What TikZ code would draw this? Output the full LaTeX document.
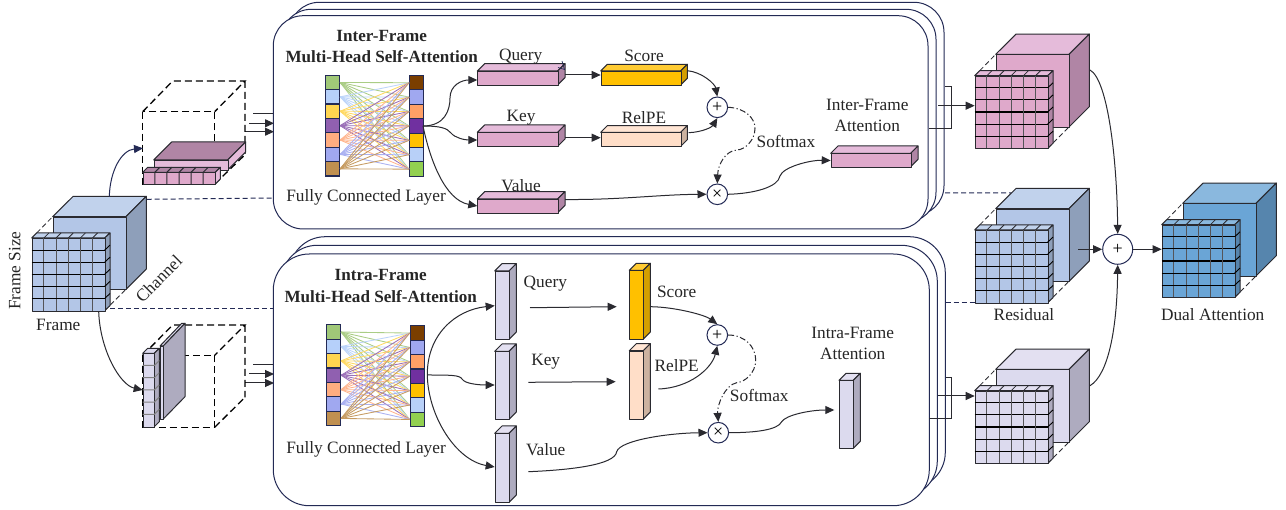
\documentclass[tikz,border=0pt]{standalone}
\usepackage{fontspec}
\setmainfont{Liberation Serif}
\usetikzlibrary{arrows.meta,calc}
\definecolor{navyl}{HTML}{232A55}
\definecolor{edge}{HTML}{2A2A30}
\definecolor{pkF}{HTML}{DFA9CB}\definecolor{pkT}{HTML}{E5BBDA}\definecolor{pkS}{HTML}{B085A5}
\definecolor{blF}{HTML}{B3C6E7}\definecolor{blT}{HTML}{C1D2EC}\definecolor{blS}{HTML}{8E9FBA}
\definecolor{lvF}{HTML}{DCDAEE}\definecolor{lvT}{HTML}{E3E0F1}\definecolor{lvS}{HTML}{AEABBF}
\definecolor{duF}{HTML}{6AA5D6}\definecolor{duT}{HTML}{8AB8DE}\definecolor{duS}{HTML}{5685AD}
\definecolor{scF}{HTML}{FFC000}\definecolor{scT}{HTML}{FFCB33}\definecolor{scS}{HTML}{D49F00}
\definecolor{reF}{HTML}{FFDEC8}\definecolor{reT}{HTML}{FFE5D4}\definecolor{reS}{HTML}{CCB2A0}
\definecolor{c1}{HTML}{A0C878}\definecolor{c2}{HTML}{B6D0FA}\definecolor{c3}{HTML}{FFD550}
\definecolor{c4}{HTML}{9060B0}\definecolor{c5}{HTML}{FFAD80}\definecolor{c6}{HTML}{A0A8F0}\definecolor{c7}{HTML}{C09050}
\definecolor{d1}{HTML}{7A3E00}\definecolor{d2}{HTML}{A0A8F0}\definecolor{d3}{HTML}{FFA066}
\definecolor{d4}{HTML}{7030A0}\definecolor{d5}{HTML}{FFC000}\definecolor{d6}{HTML}{B8D0F8}\definecolor{d7}{HTML}{92D050}
\tikzset{
  face/.style={draw=edge,line width=1pt,line join=round},
  panel/.style={draw=navyl,fill=white,line width=1pt},
  cnode/.style={draw=navyl,fill=white,circle,line width=1pt,minimum size=20.6pt,inner sep=0pt,font=\fontsize{18}{18}\selectfont},
  bigc/.style={cnode,minimum size=30pt},
  arr/.style={draw=edge,line width=1pt,-{Triangle[length=9pt,width=8pt]}},
  plain/.style={draw=edge,line width=1pt},
  softm/.style={arr,dash pattern=on 6pt off 2.5pt on 1.2pt off 2.5pt},
  dbox/.style={draw=black,line width=1.3pt,dash pattern=on 7pt off 4pt},
  thind/.style={draw=edge,line width=.8pt,dash pattern=on 5pt off 3pt},
  navyd/.style={draw=navyl,line width=1pt,dash pattern=on 5pt off 3pt},
  lab/.style={font=\fontsize{17.3}{20}\selectfont,text=black!85,inner sep=0pt,yshift=-.8pt},
  blab/.style={lab,font=\fontsize{17.1}{20}\selectfont\bfseries},
  cell/.style={draw=navyl,line width=1.1pt,minimum width=14pt,minimum height=14.4pt,inner sep=0pt,anchor=north west},
}
% name, x, y, w, h, depth, front, top, side
\newcommand{\cuboid}[9]{%
  \begin{scope}[shift={(#2,#3)}]
    \filldraw[face,fill=#8] (0,0)--(#6,-#6)--(#4+#6,-#6)--(#4,0)--cycle;
    \filldraw[face,fill=#9] (#4,0)--(#4+#6,-#6)--(#4+#6,#5-#6)--(#4,#5)--cycle;
    \node[face,fill=#7,anchor=north west,inner sep=0pt,minimum width=#4pt,minimum height=#5pt] (#1) at (0,0) {};
  \end{scope}}
% name, x, y, front, top, side
\newcommand{\gridcube}[6]{%
  \begin{scope}[shift={(#2,#3)}]
    \draw[thind] (5,-5)--(21,-21.4) (78.3,-5)--(94.3,-21.4) (73,72.6)--(94.3,51.3);
    \filldraw[face,fill=#5] (21,-21.4)--(41.4,-41.6)--(114.6,-41.6)--(94.3,-21.4)--cycle;
    \filldraw[face,fill=#6] (94.3,-21.4)--(114.6,-41.6)--(114.6,31)--(94.3,51.3)--cycle;
    \node[face,fill=#4,anchor=north west,inner sep=0pt,minimum width=73.3pt,minimum height=72.7pt] (#1back) at (21,-21.4) {};
    \filldraw[face,fill=#5] (0,0)--(5,-5)--(78.3,-5)--(73,0)--cycle;
    \filldraw[face,fill=#6] (73,0)--(78.3,-5)--(78.3,67.6)--(73,72.6)--cycle;
    \node[face,fill=#4,anchor=north west,inner sep=0pt,minimum width=73pt,minimum height=72.6pt] (#1) at (0,0) {};
    \foreach \k in {1,...,5}{
      \draw[draw=edge!80,line width=1pt] (\k*12.17,0)--(\k*12.17,72.6);
      \draw[draw=black,line width=1.1pt] (0,\k*12.1)--(73,\k*12.1);
      \draw[draw=black,line width=.9pt] (73,\k*12.1)--(78.3,\k*12.1-5);
      \draw[draw=edge,line width=.8pt] (\k*12.17,0)--(\k*12.17+5,-5);
    }
  \end{scope}}
% name, xL, yL, xR, yR
\newcommand{\fcnet}[5]{%
  \foreach \i/\c in {1/c1,2/c2,3/c3,4/c4,5/c5,6/c6,7/c7}{
    \node[cell,fill=\c] (#1L\i) at (#2,{#3+(\i-1)*14.4}) {};
  }
  \foreach \i/\c in {1/d1,2/d2,3/d3,4/d4,5/d5,6/d6,7/d7}{
    \node[cell,fill=\c] (#1R\i) at (#4,{#5+(\i-1)*14.4}) {};
  }
  \foreach \i/\c in {1/c1,2/c2,3/c3,4/c4,5/c5,6/c6,7/c7}{
    \foreach \j in {1,...,7}{
      \draw[draw=\c!90!white,line width=.85pt] (#1L\i.east)--(#1R\j.west);
    }
  }}
\begin{document}
\begin{tikzpicture}[x=1pt,y=-1pt]
\path[fill=white,use as bounding box] (0,0) rectangle (1286,510);
% ---- dashed links
\coordinate (dTa) at (945,193);\coordinate (dTb) at (1090,192.5);
\draw[navyd] (dTa)--(dTb);
\coordinate (dBa) at (945.5,303);\coordinate (dBb) at (975,303);
\draw[navyd] (dBa)--(dBb);
\coordinate (dLa) at (146.7,199.3);\coordinate (dLb) at (273,198);
\draw[navyd] (dLa)--(dLb);
\coordinate (dMa) at (110,309);\coordinate (dMb) at (273,309);
\draw[navyd] (dMa)--(dMb);
% ---- incoming arrows
\coordinate (iA1) at (253,113.3);\coordinate (eA1) at (274,113.3);
\coordinate (iA2) at (249,123.3);\coordinate (eA2) at (274,123.3);
\coordinate (iA3) at (245,131.7);\coordinate (eA3) at (274,131.7);
\coordinate (iB1) at (253,364.3);\coordinate (eB1) at (274,364.3);
\coordinate (iB2) at (249,374);\coordinate (eB2) at (274,374);
\coordinate (iB3) at (245,383);\coordinate (eB3) at (274,383);
\draw[plain] (iA1)--(eA1);\draw[arr] (iA2)--(eA2);\draw[arr] (iA3)--(eA3);
\draw[plain] (iB1)--(eB1);\draw[arr] (iB2)--(eB2);\draw[arr] (iB3)--(eB3);
% ---- panels
\draw[panel,rounded corners=30pt] (289.3,2.3) rectangle (944,215.6);
\draw[panel,rounded corners=30pt] (281.3,9.3) rectangle (936,222.3);
\draw[panel,rounded corners=30pt] (273.3,15.7) rectangle (928,229);
\draw[panel,rounded corners=36pt] (289.3,236.7) rectangle (945.3,488.3);
\draw[panel,rounded corners=36pt] (281.3,245.3) rectangle (937.3,497);
\draw[panel,rounded corners=36pt] (273.3,254) rectangle (929.3,505.7);
% ---- frame cube
\gridcube{frame}{31.7}{238}{blF}{blT}{blS}
% ---- dashed boxes with slices
\begin{scope}[shift={(142.7,111.7)}]
  \draw[dbox] (0,0) rectangle (72,72.3);
  \draw[dbox] (0,0)--(30,-30.7)--(102.3,-30.7)--(72,0) (102.3,-30.7)--(102.3,43) (72,72.3)--(102.3,43);
\end{scope}
\begin{scope}[shift={(142.7,355.3)}]
  \draw[dbox] (0,0) rectangle (72,72);
  \draw[dbox] (0,0)--(30,-30.3)--(102.3,-30.3)--(72,0) (102.3,-30.3)--(102.3,42) (72,72)--(102.3,42);
\end{scope}
% pink slice
\cuboid{slAb}{153.7}{160}{74}{10}{18}{pkT}{pkS}{pkT}
\cuboid{slA}{142.7}{172.3}{72.6}{11.7}{5}{pkF}{pkS}{pkT}
\foreach \k in {1,...,5}{
  \draw[face] (142.7+\k*12.1,172.3)--(142.7+\k*12.1,184) (142.7+\k*12.1,172.3)--(147.7+\k*12.1,167.3);
}
% lavender slice
\filldraw[face,fill=lvF] (160,346)--(163.3,346)--(185,323.3)--(181.7,323.3)--cycle;
\filldraw[face,fill=lvS] (163.3,346)--(185,323.3)--(185,396.7)--(163.3,419)--cycle;
\node[face,fill=lvF,anchor=north west,inner sep=0pt,minimum width=3.3pt,minimum height=73pt] (slBb) at (160,346) {};
\cuboid{slB}{142.7}{353.3}{11.6}{73.4}{5}{lvF}{lvF}{lvS}
\foreach \k in {1,...,5}{
  \draw[draw=gray,line width=1pt] (142.7,353.3+\k*12.2)--(154.3,353.3+\k*12.2)--(159.3,348.3+\k*12.2);
}
% ---- top panel
\fcnet{T}{325}{74.7}{409}{75}
\cuboid{qT}{477.3}{71}{80.4}{14}{7.3}{pkF}{pkT}{pkS}
\cuboid{kT}{477.3}{132.3}{80.4}{14}{7.3}{pkF}{pkT}{pkS}
\cuboid{vT}{477.3}{199}{80.4}{13.7}{7.3}{pkF}{pkT}{pkS}
\cuboid{sT}{600.7}{71}{80}{14}{6.7}{scF}{scT}{scS}
\cuboid{rT}{600.7}{132.3}{80}{14}{6.7}{reF}{reT}{reS}
\cuboid{aT}{830.7}{153.3}{80}{13.4}{7.3}{pkF}{pkT}{pkS}
\node[cnode] (pT) at (717.3,107.3) {+};
\node[cnode] (mT) at (717.3,194.3) {×};
\node[blab] (t1) at (381.7,35) {Inter-Frame};
\node[blab] (t2) at (381.7,55.7) {Multi-Head Self-Attention};
\node[lab] (t3) at (366,196.7) {Fully Connected Layer};
\node[lab] (t4) at (520.7,56) {Query};
\node[lab] (t5) at (521,116.7) {Key};
\node[lab] (t6) at (521,185) {Value};
\node[lab] (t7) at (644,55) {Score};
\node[lab] (t8) at (644,116.7) {RelPE};
\node[lab] (t9) at (786,141) {Softmax};
\node[lab] (t10) at (867.3,104.3) {Inter-Frame};
\node[lab] (t11) at (867.3,124.7) {Attention};
\coordinate (oT) at (423,126);
\draw[arr] (oT) .. controls (445,126) and (450,110) .. (450,98) .. controls (450,85) and (462,80) .. (qT.west|-0,80);
\draw[arr] (oT) .. controls (440,126) and (447,128) .. (451,133) .. controls (455,138) and (465,140) .. (kT.west|-0,140);
\draw[arr] (oT) .. controls (430,160) and (445,200) .. (vT.west|-0,206);
\draw[arr] (565,75) -- (sT.west|-0,75);
\draw[arr] (565,137.7) -- (rT.west|-0,137.7);
\draw[draw=navyl,line width=.7pt] (558,67.5)--(564.5,69.5)--(562,61);
\draw[arr] (687.3,70.7) .. controls (702,72) and (715,84) .. (pT.north);
\draw[arr] (688.7,132.7) .. controls (703,132) and (712,127) .. (pT.south);
\draw[softm] (pT.east) .. controls (745,108) and (755,118) .. (755,128.3) .. controls (755,140) and (745,150) .. (736.7,150) .. controls (725,151) and (718,165) .. (mT.north);
\draw[arr] (565,199.5) .. controls (620,200) and (660,194.5) .. (mT.west);
\draw[arr] (mT.east) .. controls (755,193.5) and (778,187) .. (780,176) .. controls (783,167) and (810,160) .. (aT.west);
% ---- bottom panel
\fcnet{B}{326}{324.3}{409.7}{325.3}
\cuboid{qB}{494.7}{271}{14.3}{68.3}{7.3}{lvF}{lvT}{lvS}
\cuboid{kB}{494.7}{351.3}{14.3}{68}{7.3}{lvF}{lvT}{lvS}
\cuboid{vB}{494.7}{433.3}{14.3}{69}{7.3}{lvF}{lvT}{lvS}
\cuboid{sB}{629.3}{270.3}{14}{68.7}{7}{scF}{scT}{scS}
\cuboid{rB}{629.3}{350.7}{14}{68.3}{7}{reF}{reT}{reS}
\cuboid{aB}{839}{380.3}{14.3}{68}{7}{lvF}{lvT}{lvS}
\node[cnode] (pB) at (717.3,335) {+};
\node[cnode] (mB) at (718.3,432.7) {×};
\node[blab] (b1) at (380.7,274.3) {Intra-Frame};
\node[blab] (b2) at (380.7,295.3) {Multi-Head Self-Attention};
\node[lab] (b3) at (366,448.7) {Fully Connected Layer};
\node[lab] (b4) at (545.3,282.7) {Query};
\node[lab] (b5) at (545.7,361) {Key};
\node[lab] (b6) at (545.7,449.3) {Value};
\node[lab] (b7) at (676.7,290.7) {Score};
\node[lab] (b8) at (676.7,364.3) {RelPE};
\node[lab] (b9) at (759.3,395) {Softmax};
\node[lab] (b10) at (852.7,332.3) {Intra-Frame};
\node[lab] (b11) at (852.7,353) {Attention};
\coordinate (oB) at (427.3,375);
\draw[arr] (oB) .. controls (427,335) and (455,310) .. (qB.west|-0,305.7);
\draw[arr] (oB) .. controls (450,375) and (460,375) .. (462,379) .. controls (465,384) and (480,385) .. (kB.west|-0,385);
\draw[arr] (oB) .. controls (428,415) and (455,460) .. (vB.west|-0,467);
\draw[arr] (530,307.7) -- (616.7,306.7);
\draw[arr] (528.3,382.3) -- (615.7,381.7);
\draw[arr] (650.7,306.7) .. controls (675,307) and (705,315) .. (pB.north);
\draw[arr] (658.3,389) .. controls (690,388) and (712,368) .. (pB.south);
\draw[softm] (pB.east) .. controls (745,335) and (755.7,347) .. (755.7,360) .. controls (755.7,373) and (745,382) .. (736.7,382.7) .. controls (725,385) and (717,405) .. (mB.north);
\draw[arr] (528.3,471.7) .. controls (570,470) and (615,465) .. (616.7,451.7) .. controls (620,440) and (670,433) .. (mB.west);
\draw[arr] (mB.east) .. controls (755,432.7) and (778,430) .. (781.7,421.7) .. controls (786,415) and (810,410) .. (834.3,410);
% ---- cubes
\gridcube{pink}{974.7}{75.7}{pkF}{pkT}{pkS}
\gridcube{resid}{974.7}{230}{blF}{blT}{blS}
\gridcube{lav}{974.7}{390.7}{lvF}{lvT}{lvS}
\gridcube{dual}{1161.7}{224.7}{duF}{duT}{duS}
\node[bigc] (pR) at (1117.7,249.3) {+};
\node[lab,rotate=90] (l1) at (14.7,270) {Frame Size};
\node[lab,rotate=45] (l2) at (158.7,278) {Channel};
\node[lab] (l3) at (58.3,324) {Frame};
\node[lab] (l4) at (1024,314) {Residual};
\node[lab] (l5) at (1212.7,314) {Dual Attention};
% ---- right connectors
\coordinate (brA) at (929,128.3);\coordinate (brB) at (945,86.7);
\draw[plain,line width=.8pt] (brA)-|(951,86.7)--(brB);
\coordinate (brC) at (929.3,418.3);\coordinate (brD) at (945.7,377.3);
\draw[plain,line width=.8pt] (brC)-|(951,377.3)--(brD);
\draw[arr] (938.3,105.7)--(pink.west|-0,105.7);
\draw[arr] (938.3,396)--(lav.west|-0,396);
\draw[arr] (1090,70) .. controls (1108,80) and (1117,160) .. (pR.north);
\draw[arr] (1090,385.7) .. controls (1108,375) and (1117,330) .. (pR.south);
\draw[arr] (1078.3,249.3)--(pR.west);
\draw[arr] (pR.east)--(dual.west|-0,249.3);
\draw[arr,draw=navyl] (109.3,196.7) .. controls (110,170) and (122,150) .. (143,148.3);
\draw[arr] (98.7,311.7) .. controls (100,350) and (120,385) .. (142.7,390);
\end{tikzpicture}
\end{document}
